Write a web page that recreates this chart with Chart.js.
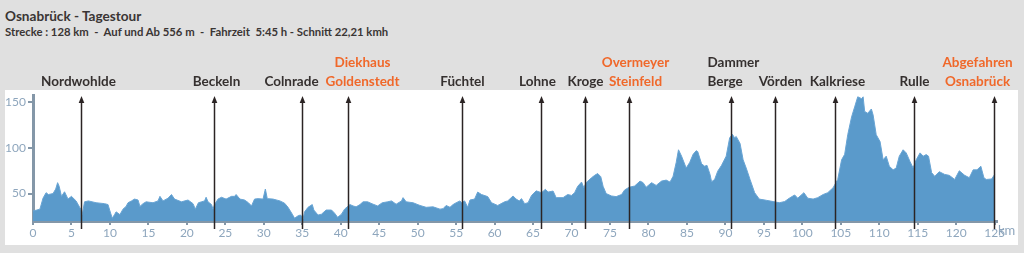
<!DOCTYPE html>
<html>
<head>
<meta charset="utf-8">
<script src="https://cdn.jsdelivr.net/npm/chart.js@4.4.1/dist/chart.umd.min.js"></script>
<style>
html, body { margin: 0; padding: 0; width: 1024px; height: 253px; overflow: hidden; background: #e0e0e0; font-family: Lato, sans-serif; }
#title { position: absolute; left: 5px; top: 8px; font-size: 13.6px; line-height: 16px; font-weight: 700; color: #3a3534; }
#sub { position: absolute; left: 5px; top: 25px; font-size: 11.3px; line-height: 14px; font-weight: 700; color: #3a3534; white-space: pre; }
#panel { position: absolute; left: 5px; top: 90px; width: 1013px; height: 155px; background: #fff; }
#profile { position: absolute; left: 0; top: 0; }
</style>
</head>
<body>
<div id="title">Osnabrück - Tagestour</div>
<div id="sub">Strecke : 128 km  -  Auf und Ab 556 m  -  Fahrzeit  5:45 h - Schnitt 22,21 kmh</div>
<div id="panel"></div>
<canvas id="profile" width="1024" height="253"></canvas>
<script>
// distance along the route (km)
var km = [0, 0.5, 0.9, 1.3, 1.7, 2.0, 2.6, 2.95, 3.2, 3.4, 3.7, 4.1, 4.55, 5.0, 5.6, 6.2, 6.4, 6.7, 7.2, 8.2,
    9.3, 9.75, 10.0, 10.3, 10.6, 10.8, 11.3, 11.7, 12.1, 12.35, 12.8, 13.2, 13.65, 13.9, 14.3, 14.7, 15.6, 16.25, 16.5, 16.9,
    17.55, 18.0, 18.4, 19.3, 20.15, 20.8, 21.1, 21.5, 21.9, 22.3, 22.5, 22.75, 23.2, 23.4, 23.6, 24.05, 24.5, 25.1, 25.8, 26.2,
    26.4, 26.9, 27.5, 28.0, 28.4, 28.8, 29.25, 29.9, 30.2, 30.45, 31.2, 32.1, 32.7, 33.15, 33.7, 34.0, 34.5, 34.8, 35.1, 35.3,
    35.75, 36.3, 36.5, 37.05, 37.5, 38.1, 38.8, 39.2, 39.6, 40.1, 40.5, 41.2, 41.6, 42.0, 42.5, 42.9, 43.5, 44.2, 44.8, 45.4,
    46.1, 46.6, 47.2, 47.9, 48.1, 48.5, 49.4, 50.3, 51.1, 52.0, 52.9, 53.3, 53.7, 54.2, 54.6, 55.0, 55.5, 55.7, 56.1, 56.5,
    56.8, 57.4, 57.8, 58.3, 59.1, 59.6, 60.4, 61.3, 61.7, 62.4, 62.8, 63.2, 63.5, 63.9, 64.35, 64.8, 65.4, 66.1, 66.6, 66.95,
    67.6, 68.0, 68.9, 69.5, 70.0, 70.4, 70.8, 71.3, 71.6, 71.9, 72.6, 73.0, 73.4, 73.8, 74.1, 74.5, 75.2, 75.8, 76.5, 76.9,
    77.5, 78.2, 78.9, 79.3, 79.7, 80.4, 81.0, 81.7, 82.3, 82.8, 83.2, 83.6, 83.9, 84.3, 84.9, 85.35, 85.8, 86.2, 86.4, 86.9,
    87.3, 87.6, 88.0, 88.2, 88.6, 89.0, 89.5, 90.1, 90.55, 90.9, 91.2, 91.4, 91.9, 92.3, 92.7, 93.2, 93.8, 94.4, 95.3, 96.2,
    97.0, 97.7, 98.3, 99.0, 99.4, 100.2, 100.7, 101.4, 102.0, 102.7, 103.3, 104.0, 104.6, 105.1, 105.5, 105.9, 106.4, 106.8, 107.2, 107.7,
    107.9, 108.1, 108.5, 108.97, 109.2, 109.6, 110.1, 110.5, 110.9, 111.3, 111.8, 112.2, 112.6, 113.1, 113.5, 114.0, 114.4, 114.8, 115.3, 115.7,
    116.1, 116.4, 116.8, 117.2, 117.8, 118.5, 119.1, 119.8, 120.4, 121.1, 121.7, 122.2, 122.7, 123.2, 123.6, 123.9, 124.6, 125.0];

// elevation (m)
var elevation = [31, 32, 33, 45, 51, 49, 50, 55, 62, 58, 47, 52, 44, 47, 42, 33, 27, 41, 42, 40,
    39, 38, 31, 23, 27, 30, 27, 33, 36, 40, 42, 44, 43, 36, 39, 41, 40, 42, 47, 42,
    45, 49, 44, 41, 43, 39, 33, 40, 41, 42, 46, 41, 38, 33, 38, 44, 46, 44, 47, 47,
    49, 44, 43, 40, 36.5, 44, 44.5, 44, 55, 44.5, 44, 42, 39.5, 35, 27.5, 23, 26, 26.5, 22, 30,
    35, 38, 32, 26.5, 27.5, 32, 32, 28.6, 24, 27.5, 33, 38, 36.5, 35.5, 38, 41, 41, 38.4, 36.5, 40,
    41, 42, 38.4, 42, 45.6, 41, 40, 37, 35, 35.5, 33, 33.5, 37, 35, 38, 40, 42, 40, 42, 35,
    43, 44, 51.7, 49, 46.7, 40, 37, 41, 42, 47.4, 44, 42, 44.5, 39, 40, 48, 53, 51, 54.7, 51.7,
    52.8, 45.6, 45.6, 49, 48, 51, 58, 62.6, 56.5, 62, 67.4, 70, 72, 68.5, 58, 50, 47.4, 46.7, 49, 54,
    57, 58.3, 63.7, 62, 57, 62, 59, 63.7, 64.8, 62.6, 69, 84, 98, 91, 78, 84, 93, 97, 96, 82.6,
    80, 81, 71, 63, 65.5, 74.6, 81, 91, 111, 115, 111, 112.6, 105, 87, 78, 65.5, 51, 44, 42.7, 41.3,
    40, 41.3, 45, 48.5, 45, 51, 45, 44, 45.6, 49, 51, 56.5, 65.5, 87, 93, 114.5, 134, 145, 156, 154,
    156, 140, 138, 142.7, 136, 114.5, 107, 87, 91, 80, 76, 78, 91, 98, 94.6, 85, 78, 87, 94.6, 91,
    92.7, 91, 73, 69, 74, 71, 70, 65.5, 75, 70, 67.4, 76, 76, 80, 67.4, 65.5, 66, 71];

// places along the route
var placeNames = [["Nordwohlde"], ["Beckeln"], ["Colnrade"], ["Diekhaus", "Goldenstedt"], ["Füchtel"], ["Lohne"],
    ["Kroge"], ["Overmeyer", "Steinfeld"], ["Dammer", "Berge"], ["Vörden"], ["Kalkriese"], ["Rulle"], ["Abgefahren", "Osnabrück"]];
var placeKm = [6.3, 23.5, 34.9, 41.0, 55.7, 66.0, 71.7, 77.5, 90.7, 96.5, 104.3, 114.5, 124.9];
var placeIsStop = [false, false, false, true, false, false, false, true, false, false, false, false, true];

var xTicks = [0, 5, 10, 15, 20, 25, 30, 35, 40, 45, 50, 55, 60, 65, 70, 75, 80, 85, 90, 95, 100, 105, 110, 115, 120, 125];
var yTicks = [50, 100, 150];

// label nudges in px so the names don't run into each other
var labelShift = [-3, 2, -11, 14, 0, -4, 0, 6, -24, 5, 2, 0, -17];
var labelAlign = ['center', 'center', 'center', 'center', 'center', 'center', 'center', 'center', 'left', 'center', 'center', 'center', 'center'];

var axisColor = '#8497a8';
var tickColor = '#8ea6bd';

var points = [];
for (let i = 0; i < km.length; i++) {
    points.push({ x: km[i], y: elevation[i] });
}

var markerPlugin = {
    id: 'markers',
    afterDraw: function (chart) {
        var ctx = chart.ctx;
        var area = chart.chartArea;
        var x = chart.scales.x;
        ctx.save();
        for (let i = 0; i < placeKm.length; i++) {
            var px = Math.round(x.getPixelForValue(placeKm[i])) + 0.5;
            ctx.strokeStyle = '#2b2424';
            ctx.fillStyle = '#2b2424';
            ctx.lineWidth = 1.5;
            ctx.beginPath();
            ctx.moveTo(px, area.top + 6);
            ctx.lineTo(px, area.bottom + 8);
            ctx.stroke();
            ctx.beginPath();
            ctx.moveTo(px, area.top + 1);
            ctx.lineTo(px - 2.8, area.top + 8);
            ctx.lineTo(px + 2.8, area.top + 8);
            ctx.closePath();
            ctx.fill();

            var lines = placeNames[i];
            ctx.font = '700 13.5px Lato';
            ctx.fillStyle = placeIsStop[i] ? '#f0682a' : '#35302f';
            ctx.textBaseline = 'middle';
            ctx.textAlign = labelAlign[i];
            for (let j = 0; j < lines.length; j++) {
                var ly = 81.5 - (lines.length - 1 - j) * 18.5;
                ctx.fillText(lines[j], px + labelShift[i], ly);
            }
        }
        ctx.font = '13px Lato';
        ctx.fillStyle = tickColor;
        ctx.textAlign = 'left';
        ctx.textBaseline = 'middle';
        ctx.fillText('km', area.right + 1, 231);
        ctx.restore();
    }
};

new Chart(document.getElementById('profile'), {
    type: 'line',
    data: {
        datasets: [{
            data: points,
            fill: 'start',
            backgroundColor: '#5a9acb',
            borderColor: '#68a4d4',
            borderWidth: 1,
            pointRadius: 0,
            tension: 0
        }]
    },
    options: {
        responsive: false,
        animation: false,
        devicePixelRatio: 1,
        layout: { padding: { top: 95, right: 27, bottom: 8, left: 0 } },
        plugins: { legend: { display: false }, tooltip: { enabled: false } },
        scales: {
            x: {
                type: 'linear',
                min: 0,
                max: 125.3,
                z: 1,
                afterFit: function (s) { s.height = 24; },
                afterBuildTicks: function (s) { s.ticks = xTicks.map(v => ({ value: v })); },
                border: { display: true, color: axisColor, width: 3 },
                grid: { drawOnChartArea: false, drawTicks: true, tickLength: 4, color: axisColor, lineWidth: 2 },
                ticks: { color: tickColor, font: { family: 'Lato', size: 12 }, padding: 1, maxRotation: 0, autoSkip: false }
            },
            y: {
                min: 20,
                max: 158,
                z: 1,
                afterFit: function (s) { s.width = 33; },
                afterBuildTicks: function (s) { s.ticks = yTicks.map(v => ({ value: v })); },
                border: { display: true, color: axisColor, width: 3 },
                grid: { drawOnChartArea: false, drawTicks: true, tickLength: 5, color: axisColor, lineWidth: 2 },
                ticks: { color: tickColor, font: { family: 'Lato', size: 12 }, padding: 2 }
            }
        }
    },
    plugins: [markerPlugin]
});
</script>
</body>
</html>
